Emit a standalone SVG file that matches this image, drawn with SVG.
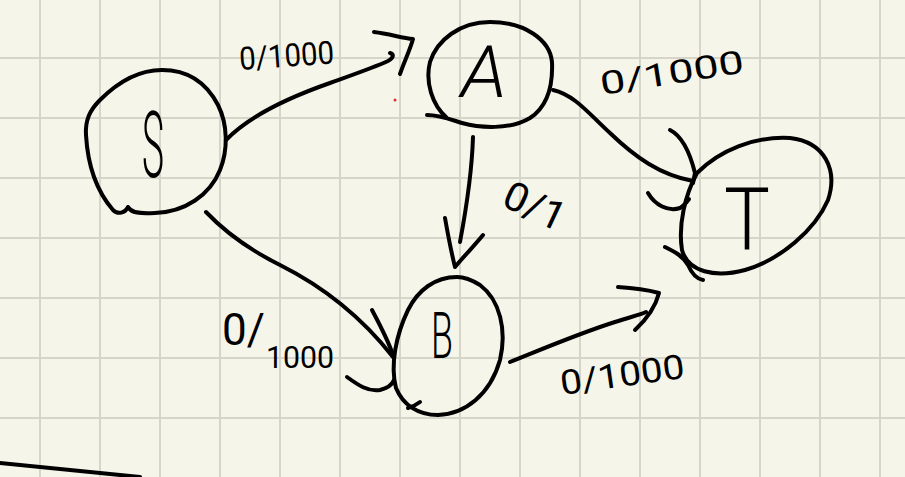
<svg xmlns="http://www.w3.org/2000/svg" width="905" height="477" viewBox="0 0 905 477">
  <style>
    .grid line { stroke: #d6d5c9; stroke-width: 2; }
    .ink { fill: none; stroke: #000; stroke-width: 4; stroke-linecap: round; stroke-linejoin: round; }
    .letter { font-family: Roboto, "Liberation Sans", sans-serif; font-weight: 300; fill: #000; }
    .lbl { font-family: Roboto, "Liberation Sans", sans-serif; font-weight: 400; fill: #000; }
  </style>
  <rect width="905" height="477" fill="#f6f5ea"/>
  <g class="grid" id="grid">
    <line x1="40" y1="0" x2="40" y2="477"/><line x1="100" y1="0" x2="100" y2="477"/>
    <line x1="160" y1="0" x2="160" y2="477"/><line x1="220" y1="0" x2="220" y2="477"/>
    <line x1="280" y1="0" x2="280" y2="477"/><line x1="340" y1="0" x2="340" y2="477"/>
    <line x1="400" y1="0" x2="400" y2="477"/><line x1="460" y1="0" x2="460" y2="477"/>
    <line x1="520" y1="0" x2="520" y2="477"/><line x1="580" y1="0" x2="580" y2="477"/>
    <line x1="640" y1="0" x2="640" y2="477"/><line x1="700" y1="0" x2="700" y2="477"/>
    <line x1="760" y1="0" x2="760" y2="477"/><line x1="820" y1="0" x2="820" y2="477"/>
    <line x1="880" y1="0" x2="880" y2="477"/>
    <line x1="0" y1="58" x2="905" y2="58"/><line x1="0" y1="118" x2="905" y2="118"/>
    <line x1="0" y1="178" x2="905" y2="178"/><line x1="0" y1="238" x2="905" y2="238"/>
    <line x1="0" y1="298" x2="905" y2="298"/><line x1="0" y1="358" x2="905" y2="358"/>
    <line x1="0" y1="418" x2="905" y2="418"/>
  </g>

  <g id="connectors">
    <!-- S -> A -->
    <path class="ink" d="M 226 140 C 250 115 290 97 330 83 C 355 74 375 67 388 61 C 394 58 394 54 390 53"/>
    <path class="ink" d="M 374 32 C 390 34 402 38 413 39 C 410 50 404 62 400 74"/>
    <!-- A -> T -->
    <path class="ink" d="M 553 90 C 575 95 590 115 610 133 C 635 157 660 175 693 181"/>
    <path class="ink" d="M 670 130 C 682 136 690 153 695 173 L 693 183"/>
    <path class="ink" d="M 648 193 C 655 205 668 212 680 208 C 684 206 686 203 689 199"/>
    <!-- A -> B -->
    <path class="ink" d="M 473 137 C 472 170 466 210 460 242"/>
    <path class="ink" d="M 445 218 C 448 235 452 255 455 267 C 465 255 475 245 483 235"/>
    <!-- S -> B -->
    <path class="ink" d="M 206 212 C 225 232 250 250 280 265 C 320 285 360 315 393 357"/>
    <path class="ink" d="M 372 310 C 380 325 388 340 393 355"/>
    <path class="ink" d="M 347 377 C 358 385 368 392 380 390 C 388 388 392 385 394 380"/>
    <!-- B -> T -->
    <path class="ink" d="M 510 362 C 540 350 580 333 615 322 C 630 317 640 315 646 312"/>
    <path class="ink" d="M 618 287 C 635 288 648 290 659 293 C 656 305 648 318 635 330"/>

    <text class="lbl" x="240" y="70" font-size="32" textLength="95" lengthAdjust="spacingAndGlyphs" transform="rotate(-4 240 70)">0/1000</text>
    <text class="lbl" x="602" y="95" font-size="32" textLength="145" lengthAdjust="spacingAndGlyphs" transform="rotate(-9 602 95)">0/1000</text>
    <text class="lbl" x="500" y="205" font-size="40" textLength="64" lengthAdjust="spacingAndGlyphs" transform="rotate(25 500 205)">0/1</text>
    <text class="lbl" x="222" y="345"><tspan font-size="44">0/</tspan><tspan x="266" y="368" font-size="31" textLength="68" lengthAdjust="spacingAndGlyphs">1000</tspan></text>
    <text class="lbl" x="562" y="395" font-size="34" textLength="125" lengthAdjust="spacingAndGlyphs" transform="rotate(-8 562 395)">0/1000</text>
  </g>

  <g id="node-S">
    <path class="ink" d="M 128 207 C 131 213 140 214 155 213 C 185 212 210 195 220 170 C 228 150 228 125 218 105 C 205 80 185 70 162 70 C 135 70 115 85 100 100 C 90 110 85 120 86 135 C 88 170 100 195 113 210 C 118 215 125 213 128 207"/>
    <text class="letter" x="142" y="177" font-size="92" textLength="22" lengthAdjust="spacingAndGlyphs">S</text>
  </g>

  <g id="node-A">
    <path class="ink" d="M 427 115 C 440 115 452 120 462 123 C 480 128 510 130 530 118 C 548 106 553 85 552 62 C 550 40 525 22 490 22 C 460 22 437 40 430 62 C 425 82 432 105 447 118"/>
    <text class="letter" x="461" y="97" font-size="72" font-style="italic" textLength="46" lengthAdjust="spacingAndGlyphs">A</text>
  </g>

  <g id="node-B">
    <path class="ink" d="M 457 277 C 435 277 418 290 408 310 C 396 335 390 365 396 388 C 403 405 418 415 438 415 C 465 414 490 395 500 360 C 507 330 500 300 480 285 C 472 280 465 277 457 277 Z"/>
    <path class="ink" d="M 420 402 C 416 405 412 407 408 408"/>
    <text class="letter" x="431" y="358" font-size="64" textLength="22" lengthAdjust="spacingAndGlyphs">B</text>
  </g>

  <g id="node-T">
    <path class="ink" d="M 697 173 C 685 195 678 225 682 250 C 688 272 715 278 745 270 C 780 260 815 230 828 200 C 838 170 825 142 790 138 C 755 136 720 150 697 173 Z"/>
    <path class="ink" d="M 665 247 C 675 252 683 256 688 265 C 692 274 696 279 703 280"/>
    <text class="letter" x="724" y="250" font-size="88" textLength="46" lengthAdjust="spacingAndGlyphs">T</text>
  </g>

  <circle cx="395" cy="100" r="1.5" fill="#e0302a"/>
  <path class="ink" d="M 0 463 L 140 477" stroke-width="3"/>
</svg>
